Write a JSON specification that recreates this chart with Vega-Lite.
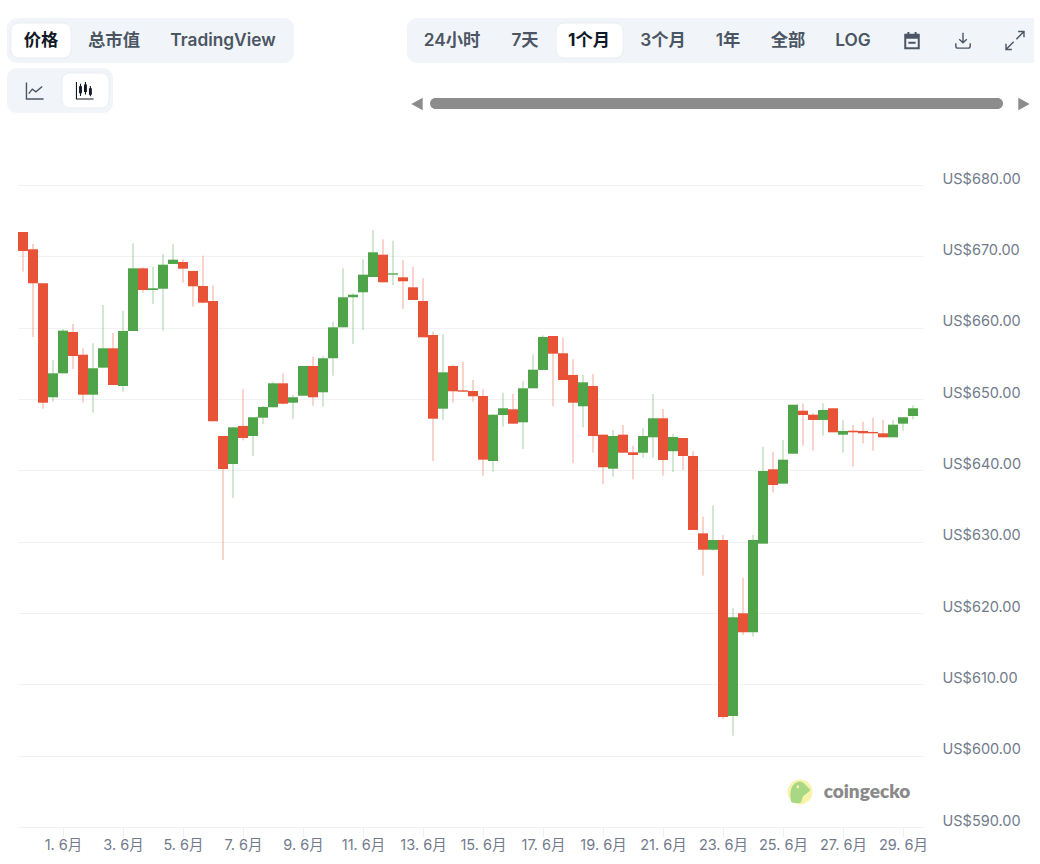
{
  "$schema": "https://vega.github.io/schema/vega-lite/v6.json",
  "width": 905,
  "height": 642,
  "autosize": "none",
  "padding": {"left": 18, "top": 185, "right": 117, "bottom": 37},
  "background": "white",
  "config": {"view": {"stroke": null}, "font": "Inter, 'Noto Sans CJK SC'"},
  "datasets": {
    "candles": [
      {"t":"2024-05-30T16:00:00Z","o":673.41,"h":673.41,"l":667.85,"c":670.75},
      {"t":"2024-05-31T00:00:00Z","o":670.99,"h":671.73,"l":658.69,"c":666.22},
      {"t":"2024-05-31T08:00:00Z","o":666.22,"h":666.22,"l":648.64,"c":649.48},
      {"t":"2024-05-31T16:00:00Z","o":650.24,"h":655.47,"l":649.62,"c":653.60},
      {"t":"2024-06-01T00:00:00Z","o":653.60,"h":659.81,"l":653.60,"c":659.58},
      {"t":"2024-06-01T08:00:00Z","o":659.39,"h":660.52,"l":654.21,"c":656.03},
      {"t":"2024-06-01T16:00:00Z","o":656.21,"h":657.11,"l":649.48,"c":650.60},
      {"t":"2024-06-02T00:00:00Z","o":650.60,"h":657.81,"l":648.08,"c":654.31},
      {"t":"2024-06-02T08:00:00Z","o":654.39,"h":663.18,"l":654.39,"c":657.11},
      {"t":"2024-06-02T16:00:00Z","o":657.11,"h":659.25,"l":651.96,"c":651.96},
      {"t":"2024-06-03T00:00:00Z","o":651.82,"h":662.38,"l":651.02,"c":659.53},
      {"t":"2024-06-03T08:00:00Z","o":659.53,"h":671.83,"l":659.53,"c":668.32},
      {"t":"2024-06-03T16:00:00Z","o":668.32,"h":668.46,"l":664.90,"c":665.28},
      {"t":"2024-06-04T00:00:00Z","o":665.28,"h":668.55,"l":663.32,"c":665.52},
      {"t":"2024-06-04T08:00:00Z","o":665.46,"h":670.33,"l":659.58,"c":668.83},
      {"t":"2024-06-04T16:00:00Z","o":668.93,"h":671.73,"l":668.93,"c":669.53},
      {"t":"2024-06-05T00:00:00Z","o":669.21,"h":669.58,"l":666.31,"c":668.27},
      {"t":"2024-06-05T08:00:00Z","o":667.95,"h":667.95,"l":662.94,"c":665.80},
      {"t":"2024-06-05T16:00:00Z","o":665.84,"h":670.09,"l":663.42,"c":663.50},
      {"t":"2024-06-06T00:00:00Z","o":663.74,"h":665.94,"l":646.87,"c":646.87},
      {"t":"2024-06-06T08:00:00Z","o":644.81,"h":644.81,"l":627.43,"c":640.19},
      {"t":"2024-06-06T16:00:00Z","o":640.89,"h":646.03,"l":636.12,"c":646.03},
      {"t":"2024-06-07T00:00:00Z","o":646.22,"h":651.40,"l":644.20,"c":644.53},
      {"t":"2024-06-07T08:00:00Z","o":644.81,"h":647.44,"l":642.01,"c":647.44},
      {"t":"2024-06-07T16:00:00Z","o":647.38,"h":649.06,"l":646.50,"c":648.88},
      {"t":"2024-06-08T00:00:00Z","o":648.84,"h":652.43,"l":648.84,"c":652.20},
      {"t":"2024-06-08T08:00:00Z","o":652.20,"h":653.60,"l":649.26,"c":649.34},
      {"t":"2024-06-08T16:00:00Z","o":649.48,"h":650.56,"l":647.20,"c":650.24},
      {"t":"2024-06-09T00:00:00Z","o":650.46,"h":654.63,"l":650.46,"c":654.63},
      {"t":"2024-06-09T08:00:00Z","o":654.63,"h":655.93,"l":649.06,"c":650.24},
      {"t":"2024-06-09T16:00:00Z","o":650.94,"h":656.03,"l":648.92,"c":655.71},
      {"t":"2024-06-10T00:00:00Z","o":655.71,"h":660.84,"l":653.27,"c":660.05},
      {"t":"2024-06-10T08:00:00Z","o":660.05,"h":668.32,"l":660.05,"c":664.26},
      {"t":"2024-06-10T16:00:00Z","o":664.26,"h":664.82,"l":657.71,"c":664.62},
      {"t":"2024-06-11T00:00:00Z","o":664.96,"h":669.58,"l":659.67,"c":667.43},
      {"t":"2024-06-11T08:00:00Z","o":667.10,"h":673.69,"l":667.10,"c":670.57},
      {"t":"2024-06-11T16:00:00Z","o":670.23,"h":672.39,"l":666.36,"c":666.36},
      {"t":"2024-06-12T00:00:00Z","o":667.43,"h":672.19,"l":665.98,"c":667.62},
      {"t":"2024-06-12T08:00:00Z","o":667.06,"h":669.49,"l":662.62,"c":666.50},
      {"t":"2024-06-12T16:00:00Z","o":665.66,"h":668.55,"l":663.88,"c":663.88},
      {"t":"2024-06-13T00:00:00Z","o":663.74,"h":666.92,"l":658.65,"c":658.65},
      {"t":"2024-06-13T08:00:00Z","o":658.97,"h":659.44,"l":641.31,"c":647.24},
      {"t":"2024-06-13T16:00:00Z","o":648.64,"h":659.07,"l":647.06,"c":653.74},
      {"t":"2024-06-14T00:00:00Z","o":654.63,"h":654.81,"l":649.48,"c":651.08},
      {"t":"2024-06-14T08:00:00Z","o":651.22,"h":655.23,"l":651.02,"c":651.02},
      {"t":"2024-06-14T16:00:00Z","o":651.12,"h":652.66,"l":649.62,"c":650.38},
      {"t":"2024-06-15T00:00:00Z","o":650.42,"h":651.40,"l":639.25,"c":641.49},
      {"t":"2024-06-15T08:00:00Z","o":641.31,"h":647.85,"l":639.81,"c":647.80},
      {"t":"2024-06-15T16:00:00Z","o":647.76,"h":650.88,"l":646.12,"c":648.70},
      {"t":"2024-06-16T00:00:00Z","o":648.56,"h":650.70,"l":646.54,"c":646.54},
      {"t":"2024-06-16T08:00:00Z","o":646.73,"h":652.52,"l":642.99,"c":651.50},
      {"t":"2024-06-16T16:00:00Z","o":651.50,"h":656.27,"l":651.50,"c":654.11},
      {"t":"2024-06-17T00:00:00Z","o":654.07,"h":658.93,"l":654.07,"c":658.69},
      {"t":"2024-06-17T08:00:00Z","o":658.83,"h":658.83,"l":649.02,"c":656.35},
      {"t":"2024-06-17T16:00:00Z","o":656.41,"h":658.59,"l":652.66,"c":652.66},
      {"t":"2024-06-18T00:00:00Z","o":653.37,"h":655.57,"l":640.99,"c":649.48},
      {"t":"2024-06-18T08:00:00Z","o":648.98,"h":653.37,"l":646.03,"c":652.34},
      {"t":"2024-06-18T16:00:00Z","o":651.82,"h":653.51,"l":642.47,"c":644.81},
      {"t":"2024-06-19T00:00:00Z","o":645.00,"h":645.00,"l":638.09,"c":640.43},
      {"t":"2024-06-19T08:00:00Z","o":640.23,"h":645.66,"l":639.11,"c":644.81},
      {"t":"2024-06-19T16:00:00Z","o":645.00,"h":646.36,"l":642.47,"c":642.47},
      {"t":"2024-06-20T00:00:00Z","o":642.53,"h":643.46,"l":638.74,"c":642.15},
      {"t":"2024-06-20T08:00:00Z","o":642.47,"h":645.89,"l":641.77,"c":644.81},
      {"t":"2024-06-20T16:00:00Z","o":644.63,"h":650.70,"l":641.77,"c":647.30},
      {"t":"2024-06-21T00:00:00Z","o":647.30,"h":648.60,"l":639.25,"c":641.45},
      {"t":"2024-06-21T08:00:00Z","o":642.68,"h":645.09,"l":639.77,"c":644.67},
      {"t":"2024-06-21T16:00:00Z","o":644.53,"h":644.53,"l":640.05,"c":642.01},
      {"t":"2024-06-22T00:00:00Z","o":642.01,"h":642.71,"l":631.64,"c":631.64},
      {"t":"2024-06-22T08:00:00Z","o":631.17,"h":633.50,"l":625.23,"c":628.87},
      {"t":"2024-06-22T16:00:00Z","o":628.87,"h":635.10,"l":628.73,"c":630.23},
      {"t":"2024-06-23T00:00:00Z","o":630.23,"h":630.94,"l":605.14,"c":605.42},
      {"t":"2024-06-23T08:00:00Z","o":605.56,"h":620.66,"l":602.80,"c":619.40},
      {"t":"2024-06-23T16:00:00Z","o":619.96,"h":624.91,"l":616.92,"c":617.30},
      {"t":"2024-06-24T00:00:00Z","o":617.30,"h":630.94,"l":616.68,"c":630.23},
      {"t":"2024-06-24T08:00:00Z","o":629.72,"h":643.31,"l":629.72,"c":639.91},
      {"t":"2024-06-24T16:00:00Z","o":640.15,"h":642.61,"l":636.87,"c":637.94},
      {"t":"2024-06-25T00:00:00Z","o":638.13,"h":644.25,"l":638.13,"c":641.49},
      {"t":"2024-06-25T08:00:00Z","o":642.33,"h":649.20,"l":642.33,"c":649.20},
      {"t":"2024-06-25T16:00:00Z","o":648.36,"h":649.40,"l":643.46,"c":647.76},
      {"t":"2024-06-26T00:00:00Z","o":647.80,"h":648.04,"l":642.75,"c":647.06},
      {"t":"2024-06-26T08:00:00Z","o":647.06,"h":649.40,"l":644.86,"c":648.46},
      {"t":"2024-06-26T16:00:00Z","o":648.70,"h":648.70,"l":645.33,"c":645.33},
      {"t":"2024-06-27T00:00:00Z","o":645.00,"h":647.06,"l":642.47,"c":645.52},
      {"t":"2024-06-27T08:00:00Z","o":645.56,"h":646.36,"l":640.51,"c":645.33},
      {"t":"2024-06-27T16:00:00Z","o":645.52,"h":646.82,"l":643.79,"c":645.19},
      {"t":"2024-06-28T00:00:00Z","o":645.38,"h":647.38,"l":642.75,"c":645.19},
      {"t":"2024-06-28T08:00:00Z","o":645.19,"h":647.06,"l":644.63,"c":644.63},
      {"t":"2024-06-28T16:00:00Z","o":644.63,"h":647.06,"l":644.63,"c":646.40},
      {"t":"2024-06-29T00:00:00Z","o":646.54,"h":647.44,"l":645.56,"c":647.44},
      {"t":"2024-06-29T08:00:00Z","o":647.62,"h":649.12,"l":647.15,"c":648.70}
    ],
    "chrome": [
      {"kind":"panel","at":0,"at2":11,"row":0,"row2":4},
      {"kind":"panel","at":0,"at2":8,"row":5,"row2":12},
      {"kind":"panel","at":12,"at2":31,"row":0,"row2":4},
      {"kind":"edge","at":29,"at2":31,"row":0,"row2":4},
      {"kind":"pill","at":1,"at2":5,"row":1,"row2":3},
      {"kind":"pill","at":4,"at2":7,"row":6,"row2":10},
      {"kind":"pill","at":17,"at2":19,"row":1,"row2":3},
      {"kind":"scroll","at":14,"at2":28,"row":8,"row2":11},
      {"kind":"active","text":"价格","at":3,"row":2},
      {"kind":"label","text":"总市值","at":9,"row":2},
      {"kind":"label","text":"TradingView","at":10,"row":2},
      {"kind":"label","text":"24小时","at":15,"row":2},
      {"kind":"label","text":"7天","at":16,"row":2},
      {"kind":"active","text":"1个月","at":18,"row":2},
      {"kind":"label","text":"3个月","at":20,"row":2},
      {"kind":"label","text":"1年","at":21,"row":2},
      {"kind":"label","text":"全部","at":22,"row":2},
      {"kind":"label","text":"LOG","at":24,"row":2},
      {"kind":"icon","icon":"line","at":2,"row":7},
      {"kind":"icon","icon":"candle","at":6,"row":7},
      {"kind":"icon","icon":"calendar","at":26,"row":2},
      {"kind":"icon","icon":"download","at":27,"row":2},
      {"kind":"icon","icon":"expand","at":29,"row":2},
      {"kind":"arrow-left","at":13,"row":9},
      {"kind":"arrow-right","at":30,"row":9},
      {"kind":"disc","at":23,"row":13},
      {"kind":"gecko","at":23,"row":13},
      {"kind":"word","text":"coingecko","at":25,"row":13}
    ]
  },
  "layer": [
    {
      "data": {"name": "candles"},
      "encoding": {
        "x": {
          "field": "t",
          "type": "temporal",
          "title": null,
          "scale": {"type": "utc", "domain": ["2024-05-30T12:00:00Z", "2024-06-29T16:00:00Z"], "nice": false, "padding": 0},
          "axis": {
            "orient": "bottom",
            "values": ["2024-06-01T00:00:00Z","2024-06-03T00:00:00Z","2024-06-05T00:00:00Z","2024-06-07T00:00:00Z","2024-06-09T00:00:00Z","2024-06-11T00:00:00Z","2024-06-13T00:00:00Z","2024-06-15T00:00:00Z","2024-06-17T00:00:00Z","2024-06-19T00:00:00Z","2024-06-21T00:00:00Z","2024-06-23T00:00:00Z","2024-06-25T00:00:00Z","2024-06-27T00:00:00Z","2024-06-29T00:00:00Z"],
            "labelExpr": "utcFormat(datum.value, '%-d') + '. 6月'",
            "grid": false,
            "domain": false,
            "tickSize": 10,
            "tickColor": "#eef0f3",
            "labelFontSize": 14.5,
            "labelColor": "#727b8c",
            "labelPadding": 1,
            "labelOverlap": false,
            "labelFlush": false
          }
        },
        "y": {
          "type": "quantitative",
          "title": null,
          "scale": {"domain": [590, 680], "nice": false, "zero": false},
          "axis": {
            "orient": "right",
            "values": [590, 600, 610, 620, 630, 640, 650, 660, 670, 680],
            "labelExpr": "'US$' + format(datum.value, '.2f')",
            "grid": true,
            "gridColor": "#f1f2f5",
            "gridWidth": 1,
            "domain": false,
            "ticks": false,
            "labelFontSize": 14.5,
            "labelColor": "#727b8c",
            "labelPadding": 19,
            "labelOffset": -6,
            "labelAlign": "left",
            "labelOverlap": false,
            "labelFlush": false
          }
        },
        "color": {
          "condition": {"test": "datum.c >= datum.o", "value": "#4fa44a"},
          "value": "#e85338"
        }
      },
      "layer": [
        {
          "mark": {"type": "rule", "strokeWidth": 1, "opacity": 0.5},
          "encoding": {"y": {"field": "l"}, "y2": {"field": "h"}}
        },
        {
          "mark": {"type": "bar", "size": 10},
          "encoding": {"y": {"field": "o"}, "y2": {"field": "c"}}
        }
      ]
    },
    {
      "data": {"name": "chrome"},
      "encoding": {
        "x": {
          "field": "at",
          "type": "quantitative",
          "axis": null,
          "scale": {
            "domain": [0,1,2,3,4,5,6,7,8,9,10,11,12,13,14,15,16,17,18,19,20,21,22,23,24,25,26,27,28,29,30,31],
            "range": [-11,-7,17,23,44,53,67,91,95,96,205,276,389,399,412,434,507,538,571,605,645,710,770,782,835,849,894,945,985,997,1006,1016],
            "nice": false,
            "zero": false
          }
        },
        "y": {
          "field": "row",
          "type": "quantitative",
          "axis": null,
          "scale": {
            "domain": [0,1,2,3,4,5,6,7,8,9,10,11,12,13],
            "range": [-167,-162,-144.5,-127,-122,-117,-112,-94.5,-87,-81,-77,-76,-72,607],
            "nice": false,
            "zero": false
          }
        }
      },
      "layer": [
        {
          "transform": [{"filter": "datum.kind == 'panel'"}],
          "mark": {"type": "rect", "fill": "#f1f5f9", "cornerRadius": 10},
          "encoding": {"x2": {"field": "at2"}, "y2": {"field": "row2"}}
        },
        {
          "transform": [{"filter": "datum.kind == 'edge'"}],
          "mark": {"type": "rect", "fill": "#f1f5f9"},
          "encoding": {"x2": {"field": "at2"}, "y2": {"field": "row2"}}
        },
        {
          "transform": [{"filter": "datum.kind == 'pill'"}],
          "mark": {"type": "rect", "fill": "white", "stroke": "#e9edf3", "strokeWidth": 1, "cornerRadius": 8},
          "encoding": {"x2": {"field": "at2"}, "y2": {"field": "row2"}}
        },
        {
          "transform": [{"filter": "datum.kind == 'scroll'"}],
          "mark": {"type": "rect", "fill": "#8c8c8c", "cornerRadius": 5.5},
          "encoding": {"x2": {"field": "at2"}, "y2": {"field": "row2"}}
        },
        {
          "transform": [{"filter": "datum.kind == 'label'"}],
          "mark": {"type": "text", "fontSize": 17.3, "fontWeight": 600, "color": "#4b5563", "baseline": "middle", "align": "center"},
          "encoding": {"text": {"field": "text"}}
        },
        {
          "transform": [{"filter": "datum.kind == 'active'"}],
          "mark": {"type": "text", "fontSize": 17.3, "fontWeight": 700, "color": "#111827", "baseline": "middle", "align": "center"},
          "encoding": {"text": {"field": "text"}}
        },
        {
          "transform": [{"filter": "datum.kind == 'icon'"}],
          "mark": {"type": "point", "size": 324, "filled": false, "opacity": 1},
          "encoding": {
            "shape": {
              "field": "icon",
              "type": "nominal",
              "legend": null,
              "scale": {
                "domain": ["line", "candle", "calendar", "download", "expand"],
                "range": [
                  "M-0.95,-0.9V0.95H0.95M-0.7,0.35L-0.3,-0.15L0.1,0.15L0.8,-0.45",
                  "M-0.95,-0.95V0.95H0.95M-0.5,-0.75V0.6M-0.6,-0.4H-0.4V0.25H-0.6ZM0.05,-0.95V0.45M-0.05,-0.6H0.15V0.1H-0.05ZM0.6,-0.5V0.65M0.5,-0.2H0.7V0.4H0.5Z",
                  "M-0.75,-0.65H0.75V0.85H-0.75ZM-0.75,-0.5H0.75M-0.75,-0.3H0.75M-0.4,-0.95V-0.6M0.4,-0.95V-0.6M-0.4,0.25H0.4",
                  "M0,-0.85V0.25M-0.42,-0.15L0,0.25L0.42,-0.15M-0.8,0.3V0.6Q-0.8,0.85-0.55,0.85H0.55Q0.8,0.85 0.8,0.6V0.3",
                  "M0.15,-0.15L1,-1M0.35,-1H1V-0.35M-0.15,0.15L-1,1M-1,0.35V1H-0.35"
                ]
              }
            },
            "color": {
              "field": "icon",
              "type": "nominal",
              "legend": null,
              "scale": {
                "domain": ["line", "candle", "calendar", "download", "expand"],
                "range": ["#4b5563", "#111827", "#4b5563", "#4b5563", "#4b5563"]
              }
            },
            "strokeWidth": {
              "condition": [
                {"test": "datum.icon == 'candle'", "value": 1.1},
                {"test": "datum.icon == 'calendar'", "value": 2}
              ],
              "value": 1.4
            }
          }
        },
        {
          "transform": [{"filter": "datum.kind == 'arrow-left'"}],
          "mark": {"type": "point", "shape": "M0.9,-1L-0.9,0L0.9,1Z", "size": 160, "filled": true, "opacity": 1, "color": "#8c8c8c"}
        },
        {
          "transform": [{"filter": "datum.kind == 'arrow-right'"}],
          "mark": {"type": "point", "shape": "M-0.9,-1L0.9,0L-0.9,1Z", "size": 160, "filled": true, "opacity": 1, "color": "#8c8c8c"}
        },
        {
          "transform": [{"filter": "datum.kind == 'disc'"}],
          "mark": {"type": "point", "shape": "circle", "size": 620, "filled": true, "opacity": 1, "color": "#f8f3ab"}
        },
        {
          "transform": [{"filter": "datum.kind == 'gecko'"}],
          "mark": {
            "type": "point",
            "shape": "M-0.8,0.9C-1,0 -0.8,-0.8 -0.1,-0.95C0.3,-1 0.5,-0.6 0.95,-0.2C0.7,0.2 0.3,0.2 0.2,0.6C0.2,0.8 0.1,0.95 0,1C-0.3,1 -0.6,1 -0.8,0.9ZM-0.3,-0.6L-0.3,-0.35L-0.1,-0.35L-0.1,-0.6Z",
            "size": 484,
            "filled": true,
            "opacity": 1,
            "color": "#a9d884"
          }
        },
        {
          "transform": [{"filter": "datum.kind == 'word'"}],
          "mark": {"type": "text", "fontSize": 19, "fontWeight": 800, "font": "Lato", "color": "#8a8a8a", "baseline": "middle", "align": "center"},
          "encoding": {"text": {"field": "text"}}
        }
      ]
    }
  ],
  "resolve": {"scale": {"x": "independent", "y": "independent", "color": "independent", "shape": "independent"}}
}
